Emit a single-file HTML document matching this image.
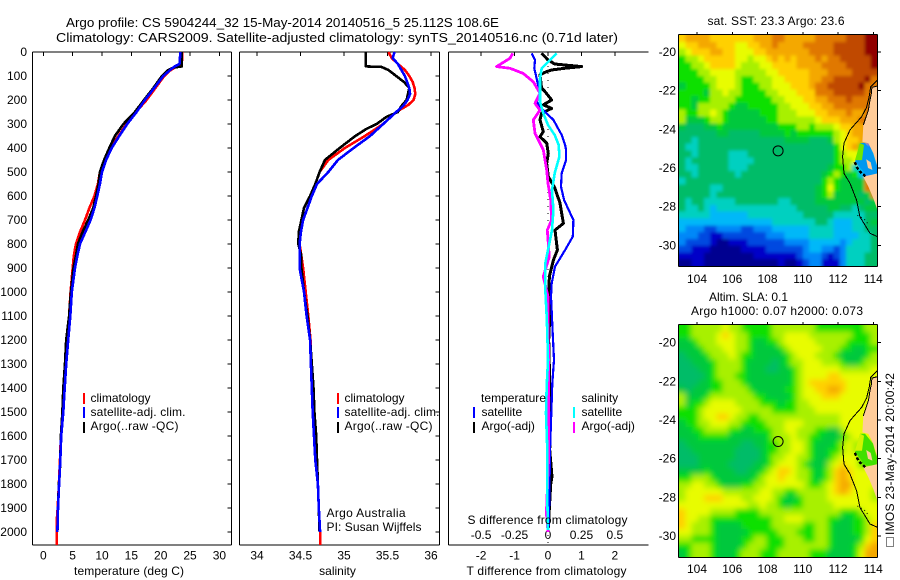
<!DOCTYPE html>
<html>
<head>
<meta charset="utf-8">
<title>Argo profile 5904244_32</title>
<style>
html,body{margin:0;padding:0;background:#fff;}
svg{display:block;font-family:"Liberation Sans",sans-serif;font-size:12px;fill:#000;}
text{fill:#000;}
.ttl{font-size:13px;}
</style>
</head>
<body>
<svg id="fig" xmlns="http://www.w3.org/2000/svg" width="900" height="580" viewBox="0 0 900 580">
  <defs>
    <filter id="blur-sst" filterUnits="userSpaceOnUse" x="0" y="0" width="900" height="580"><feGaussianBlur stdDeviation="1.6"/></filter>
    <filter id="blur-sla" filterUnits="userSpaceOnUse" x="0" y="0" width="900" height="580"><feGaussianBlur stdDeviation="3"/></filter>
  </defs>
  <text class="ttl" x="66" y="27" textLength="433" lengthAdjust="spacingAndGlyphs">Argo profile: CS 5904244_32 15-May-2014 20140516_5 25.112S 108.6E</text>
  <text class="ttl" x="56" y="42" textLength="562" lengthAdjust="spacingAndGlyphs">Climatology: CARS2009. Satellite-adjusted climatology: synTS_20140516.nc (0.71d later)</text>

  <g id="panels"></g>
  <g id="maps"></g>

  <text x="129" y="575" text-anchor="middle" textLength="110">temperature (deg C)</text>
  <text x="337.5" y="575" text-anchor="middle">salinity</text>
  <text x="546.5" y="575" text-anchor="middle" textLength="160">T difference from climatology</text>
  <text x="547.5" y="524" text-anchor="middle" textLength="160">S difference from climatology</text>

  <g>
    <rect x="83" y="393" width="2" height="11" fill="#ff0000"/>
    <rect x="83" y="407" width="2" height="11" fill="#0000ff"/>
    <rect x="83" y="422" width="2" height="11" fill="#000"/>
    <text x="90.5" y="402">climatology</text>
    <text x="90.5" y="416" textLength="95">satellite-adj. clim.</text>
    <text x="90.5" y="430" textLength="88">Argo(..raw -QC)</text>
  </g>
  <g>
    <rect x="337" y="393" width="2" height="11" fill="#ff0000"/>
    <rect x="337" y="407" width="2" height="11" fill="#0000ff"/>
    <rect x="337" y="422" width="2" height="11" fill="#000"/>
    <text x="344.5" y="402">climatology</text>
    <text x="344.5" y="416" textLength="95">satellite-adj. clim.</text>
    <text x="344.5" y="430" textLength="88">Argo(..raw -QC)</text>
  </g>
  <text x="326.5" y="517" textLength="79">Argo Australia</text>
  <text x="326.5" y="531" textLength="95">PI: Susan Wijffels</text>

  <g>
    <text x="481" y="402" textLength="65">temperature</text>
    <text x="581.5" y="402">salinity</text>
    <rect x="473" y="407" width="2" height="11" fill="#0000ff"/>
    <rect x="473" y="422" width="2" height="11" fill="#000"/>
    <rect x="573" y="407" width="2" height="11" fill="#00ffff"/>
    <rect x="573" y="422" width="2" height="11" fill="#ff00ff"/>
    <text x="481.5" y="416">satellite</text>
    <text x="481.5" y="430">Argo(-adj)</text>
    <text x="581.5" y="416">satellite</text>
    <text x="581.5" y="430">Argo(-adj)</text>
  </g>

  <text x="707.5" y="25" textLength="137">sat. SST: 23.3 Argo: 23.6</text>
  <text x="709" y="301" textLength="79">Altim. SLA: 0.1</text>
  <text x="691" y="315" textLength="172">Argo h1000: 0.07 h2000: 0.073</text>

  <g>
    <rect x="886.5" y="537.5" width="7" height="9" fill="none" stroke="#000" stroke-dasharray="1 1"/>
    <text transform="translate(894,535) rotate(-90)" textLength="162">IMOS 23-May-2014 20:00:42</text>
  </g>
</svg>

<script>
/* ---------- tick labels ---------- */
var depthTicks = [0,100,200,300,400,500,600,700,800,900,1000,1100,1200,1300,1400,1500,1600,1700,1800,1900,2000];
var temperatureTicks = [0,5,10,15,20,25,30];
var salinityTicks = [34,34.5,35,35.5,36];
var tDiffTicks = [-2,-1,0,1,2];
var sDiffTicks = [-0.5,-0.25,0,0.25,0.5];
var lonTicks = [104,106,108,110,112,114];
var latTicks = [20,22,24,26,28,30];

/* ---------- temperature profiles ---------- */
var tempClimDepth = [0,50,60,75,100,150,200,250,300,350,400,450,500,550,600,650,700,750,800,850,900,1000,1100,1200,1300,1400,1500,1600,1700,1800,1900,1950,2054];
var tempClim = [23.7,23.6,22.8,21.7,20.6,19.1,17.6,15.8,14.2,12.8,11.4,10.4,9.65,9.3,8.7,7.85,7.1,6.25,5.55,5.2,5.0,4.65,4.4,4.15,3.8,3.45,3.25,3.0,2.85,2.65,2.45,2.3,2.3];
var tempSatDepth = [0,50,60,75,100,150,200,250,300,350,400,450,500,550,600,650,700,750,800,850,900,1000,1100,1200,1300,1400,1500,1600,1700,1800,1900,2000];
var tempSat = [23.35,23.2,22.4,21.6,20.45,18.9,17.3,15.9,14.3,12.95,11.65,10.7,10.0,9.65,9.2,8.7,8.05,7.15,6.25,5.8,5.4,4.85,4.6,4.25,3.9,3.65,3.4,3.05,2.9,2.7,2.5,2.4];
var tempArgoDepth = [0,60,65,75,100,150,200,250,300,350,400,450,500,550,600,650,700,750,800,850,900,1000,1100,1200,1300,1400,1500,1600,1700,1760,1800,1900,2000];
var tempArgo = [23.6,23.6,22.15,21.3,20.2,18.75,17.15,15.6,13.65,12.2,11.25,10.35,9.65,9.4,9.0,8.5,7.65,6.7,5.9,5.55,5.15,4.7,4.4,3.9,3.7,3.4,3.25,3.0,2.9,2.8,2.65,2.5,2.4];

/* ---------- salinity profiles ---------- */
var salClimDepth = [0,25,50,75,100,125,150,175,200,220,250,300,350,400,450,500,550,600,650,700,750,800,850,900,1000,1100,1200,1300,1400,1500,1600,1700,1800,1900,2000,2054];
var salClim = [35.51,35.55,35.62,35.70,35.75,35.79,35.81,35.82,35.80,35.74,35.6,35.45,35.24,35.01,34.82,34.72,34.67,34.61,34.54,34.51,34.5,34.49,34.51,34.53,34.56,34.59,34.615,34.625,34.635,34.645,34.66,34.68,34.70,34.71,34.725,34.725];
var salSatDepth = [0,25,50,75,100,150,175,200,225,250,300,350,400,450,500,550,600,650,700,750,800,850,900,1000,1100,1200,1300,1400,1500,1600,1700,1800,1900,2000];
var salSat = [35.58,35.56,35.62,35.66,35.70,35.75,35.76,35.73,35.68,35.6,35.45,35.30,35.11,34.93,34.82,34.69,34.63,34.58,34.53,34.505,34.49,34.49,34.49,34.54,34.57,34.61,34.62,34.63,34.64,34.655,34.67,34.70,34.71,34.725];
var salArgoDepth = [0,60,62,75,100,125,150,200,225,250,270,300,320,350,400,450,500,550,600,650,700,750,800,850,900,1000,1100,1200,1300,1400,1500,1600,1700,1800,1900,2000];
var salArgo = [35.25,35.25,35.43,35.51,35.6,35.69,35.75,35.72,35.66,35.62,35.49,35.375,35.26,35.13,34.95,34.78,34.72,34.67,34.61,34.54,34.51,34.48,34.475,34.51,34.51,34.54,34.58,34.61,34.63,34.65,34.66,34.68,34.69,34.70,34.71,34.72];

/* ---------- difference profiles ---------- */
var diffTSatDepth = [6,33,68,110,172,207,235,283,346,388,408,450,505,561,617,700,769,825,894,964,1019,1172,1283,1380,1505,1658,1866,1977];
var diffTSat = [-0.49,-0.39,-0.41,-0.34,-0.24,-0.34,-0.19,0.16,0.41,0.51,0.54,0.54,0.41,0.39,0.48,0.76,0.74,0.51,0.21,0.11,0.09,0.14,0.18,0.13,0.10,0.06,0.04,0.02];
var diffTArgoDepth = [6,33,50,61,68,75,85,96,151,165,200,220,235,255,283,332,353,380,422,464,519,568,630,714,742,825,867,936,1019,1075,1200,1430,1500,1658,1770,1800,1950,2000];
var diffTArgo = [-0.19,0,0.2,1.0,0.5,0.1,-0.1,-0.24,-0.19,-0.09,0.11,-0.14,0.11,-0.19,-0.24,-0.14,-0.24,-0.04,0.01,-0.04,0.01,0.21,0.36,0.46,0.21,0.28,0.16,0.04,0.03,0.06,0.02,0.06,0.08,0.05,0.12,0.08,0.02,0];
var diffSSatDepth = [6,33,68,110,172,207,255,304,346,388,436,505,575,658,742,825,880,991,1102,1172,1283,1394,1505,1658,1866,1991];
var diffSSat = [0.065,0.015,-0.047,-0.06,-0.06,-0.06,-0.035,0,0.05,0.08,0.085,0.05,0.03,0.04,0.03,0,-0.02,-0.02,-0.01,-0.005,0,-0.01,-0.015,-0.005,-0.005,0];
var diffSArgoDepth = [6,26,61,68,89,124,172,214,242,283,339,380,408,492,547,617,700,742,853,936,1019,1300,1700,1922,2000];
var diffSArgo = [-0.264,-0.284,-0.384,-0.284,-0.185,-0.11,-0.06,-0.097,-0.06,-0.11,-0.097,-0.06,-0.035,-0.01,0,0.02,0.027,-0.005,0.01,-0.035,0,0.004,0.004,-0.012,0];

/* ---------- maps ---------- */
var sstLevels = [
[11,12,12,12,12,11,11,11,11,11,11,11,12,12,12,13,13,12,12,12,12,12,13,13,13,13,13,14,14,14,15,15],
[10,11,11,12,12,12,11,11,11,10,10,11,11,12,12,13,12,12,12,12,13,13,13,13,13,14,14,14,14,14,15,15],
[9,10,11,11,11,12,12,11,11,10,10,10,11,11,12,12,12,12,12,12,12,13,13,13,13,14,14,14,14,14,15,15],
[8,9,9,10,11,11,11,11,11,10,10,9,10,10,11,12,11,12,11,12,12,12,13,12,13,13,14,14,14,14,14,15],
[8,8,9,9,10,11,11,11,11,10,9,9,9,10,10,11,11,11,11,12,12,12,12,13,13,13,13,14,14,14,14,15],
[8,8,8,9,9,10,10,10,10,9,9,9,9,9,10,10,11,11,11,11,11,12,12,12,13,13,13,13,14,14,14,14],
[8,8,8,8,9,9,10,10,10,9,8,8,9,9,9,10,10,11,11,11,11,12,12,13,13,14,14,14,14,14,15,13],
[7,8,8,8,8,9,10,10,10,9,8,8,8,9,9,10,10,10,11,11,11,12,13,13,14,14,14,14,14,15,13,13],
[8,8,8,8,7,9,9,10,9,9,8,8,8,8,9,9,10,10,10,11,11,11,13,13,13,14,14,14,14,14,13,13],
[8,8,7,8,8,9,9,9,9,8,8,8,8,8,8,9,9,10,10,10,11,11,12,12,13,13,13,14,13,13,13,13],
[8,8,7,9,9,9,9,9,8,7,7,8,8,8,8,8,9,9,10,10,10,11,11,12,12,13,13,13,13,13,13,13],
[9,8,8,9,9,10,9,8,7,7,7,7,7,8,8,8,9,9,9,10,10,10,11,11,12,12,12,13,12,12,13,13],
[9,7,7,7,8,9,9,8,7,7,7,7,7,7,8,8,9,9,9,9,9,9,10,11,11,11,12,12,12,13,13,13],
[7,6,6,6,7,7,8,7,7,7,7,7,7,7,7,7,8,8,8,9,9,8,9,9,9,10,11,11,12,12,13,13],
[6,6,6,6,6,6,7,7,6,6,6,6,6,7,7,7,7,8,7,8,8,8,8,8,8,9,10,11,12,12,13,13],
[6,6,5,6,6,6,6,6,6,6,6,6,6,6,6,6,6,7,7,7,7,6,6,6,7,9,10,11,11,12,13,13],
[6,5,5,6,6,6,6,6,6,6,6,6,6,6,6,6,6,6,6,6,6,6,6,6,6,8,10,11,12,8,3,3],
[6,6,5,6,6,6,6,6,5,5,5,6,6,6,6,6,6,6,6,6,6,6,6,6,6,8,9,10,10,9,4,4],
[6,5,6,6,6,6,6,6,5,5,5,5,6,6,6,6,6,6,6,6,6,6,6,6,6,8,9,9,10,9,4,4],
[6,5,5,6,6,6,6,6,5,5,5,6,6,6,6,6,6,6,6,6,6,6,6,6,7,8,8,9,5,4,4,3],
[6,6,5,6,6,6,6,6,6,5,6,6,6,6,6,6,6,6,6,6,6,6,6,7,8,9,8,7,8,4,3,3],
[5,6,6,6,6,6,6,6,6,6,6,6,6,6,6,6,6,6,6,6,6,6,6,8,9,8,7,7,7,7,13,13],
[6,6,6,6,6,5,5,6,6,6,6,6,6,6,6,6,6,6,6,6,6,6,7,8,10,8,7,7,7,7,13,13],
[6,6,6,6,6,5,6,6,6,6,6,6,6,6,6,6,6,6,6,6,6,6,7,8,9,7,7,7,7,6,7,13],
[6,5,6,6,5,5,5,5,5,6,6,6,6,6,6,6,5,5,6,6,6,6,7,7,7,7,7,7,7,7,6,7],
[6,5,5,6,5,4,5,5,5,5,5,5,5,5,5,5,5,5,5,6,6,6,6,6,7,7,6,6,5,6,7,7],
[5,5,5,5,5,4,4,4,4,4,4,5,5,5,5,5,5,5,5,5,6,6,6,6,6,5,5,5,5,5,6,6],
[4,4,4,4,4,4,4,4,4,4,4,4,4,4,4,5,5,5,5,5,5,5,6,6,5,4,4,4,5,5,6,7],
[4,3,3,3,2,2,3,3,3,3,2,2,3,3,3,4,4,4,4,4,4,5,5,5,5,4,4,4,5,5,6,6],
[3,3,3,2,2,1,1,2,2,2,2,2,2,2,3,3,3,4,4,4,4,5,5,5,5,4,4,4,4,5,5,6],
[3,2,2,2,2,1,0,0,1,1,1,2,2,2,2,2,2,3,3,3,3,4,4,4,4,4,3,4,5,5,5,6],
[2,2,1,1,1,0,0,0,0,0,1,1,1,1,2,2,2,2,2,2,3,4,4,3,3,2,3,5,5,5,5,6],
[1,1,1,1,0,0,0,0,0,0,0,0,1,1,1,1,1,1,1,2,3,3,3,2,1,2,3,5,5,5,6,6],
[0,0,1,1,0,0,0,0,0,0,0,0,0,0,0,0,1,0,0,1,2,3,3,1,1,1,3,5,5,5,6,6]
];
var slaLevels = [
[8,8,9,9,9,9,9,10,9,9,8,8,8,8,8,9,9,9,9,9,9,9,8,8,8,8,8,8,8,8,9,9],
[8,8,9,9,9,9,10,11,10,9,9,8,8,8,8,9,9,10,10,10,10,9,9,9,9,9,9,9,8,8,8,9],
[7,7,8,9,9,9,10,10,10,9,9,8,7,7,8,8,9,10,10,10,10,10,9,9,9,9,9,8,8,8,8,9],
[7,7,7,8,9,9,9,10,10,9,9,8,7,7,7,7,8,9,10,10,10,10,10,9,9,9,8,8,7,7,8,8],
[6,7,7,7,8,9,9,9,10,9,8,8,7,7,7,7,7,8,9,10,10,10,9,9,9,8,7,7,7,7,8,9],
[6,6,7,7,7,8,9,9,9,9,8,7,7,7,7,6,7,8,9,9,10,10,10,9,9,9,8,7,7,8,9,9],
[6,6,6,7,7,8,9,9,9,9,8,7,7,7,6,6,7,7,8,9,10,10,10,10,10,10,9,9,9,9,9,10],
[6,6,6,6,7,8,9,9,9,8,8,7,7,7,7,7,7,7,8,9,10,10,10,10,11,11,10,10,10,10,10,10],
[6,6,6,7,7,8,8,9,9,9,8,7,7,7,7,7,7,7,8,9,10,11,11,11,11,11,11,10,10,10,10,10],
[7,6,7,7,7,8,8,9,9,9,9,8,7,7,7,7,7,8,8,9,10,10,11,11,12,12,11,10,10,10,10,10],
[9,7,7,7,8,9,9,9,9,9,9,9,8,8,7,7,7,7,8,9,10,10,10,11,11,11,10,10,10,10,10,10],
[9,7,8,8,9,10,10,10,10,9,9,9,9,8,8,8,7,8,8,9,9,10,10,10,10,10,10,10,10,10,10,10],
[8,8,8,9,10,10,10,10,10,10,9,9,9,9,9,8,8,8,8,9,9,9,10,10,10,10,10,10,10,10,10,10],
[8,8,8,9,10,10,11,11,10,9,9,8,8,9,9,9,9,9,9,9,9,9,9,9,9,9,10,10,10,10,10,10],
[7,8,8,9,9,10,10,10,9,9,8,8,8,8,9,9,9,10,10,10,9,9,9,9,9,9,10,10,10,10,10,10],
[7,7,8,8,9,9,9,9,8,8,7,7,8,8,8,9,9,10,10,9,9,9,8,8,7,7,9,10,10,10,10,10],
[7,7,7,8,8,8,8,8,7,7,7,7,7,7,8,9,9,9,10,9,9,8,8,7,7,7,8,9,10,10,10,10],
[6,7,7,7,7,7,7,7,7,7,6,6,7,7,8,8,9,9,10,10,9,8,7,7,7,8,9,10,9,9,9,9],
[6,6,7,7,7,7,7,7,7,6,6,6,6,7,8,8,9,9,10,10,9,8,7,7,8,8,9,10,9,9,9,10],
[6,6,6,7,7,7,7,7,7,6,6,6,6,7,8,9,9,10,10,9,9,8,7,7,8,9,10,10,10,8,8,8],
[6,6,6,7,7,7,7,7,6,6,6,6,7,7,8,9,10,10,10,9,8,7,7,7,9,10,11,10,10,8,8,10],
[7,7,7,7,8,7,7,7,7,6,6,7,7,8,9,10,11,11,10,9,9,8,7,8,9,11,12,11,10,10,10,10],
[8,8,9,9,9,8,7,7,7,7,7,7,8,9,10,10,11,10,10,9,9,8,7,8,9,11,12,11,10,10,10,10],
[9,9,10,10,9,9,8,7,7,7,8,8,9,9,10,10,10,10,10,10,9,8,8,9,10,11,12,12,10,10,10,10],
[9,10,10,10,10,10,10,9,9,9,9,9,9,10,10,9,9,8,8,9,9,9,9,9,10,11,12,11,10,10,10,9],
[9,10,10,10,11,11,11,10,10,10,9,9,10,10,10,9,8,7,7,8,9,9,9,9,10,10,10,10,10,10,10,9],
[10,10,10,10,10,10,10,10,10,10,10,9,9,10,9,9,8,7,8,8,9,9,9,9,9,10,10,10,10,10,10,10],
[11,10,10,10,10,9,9,9,9,8,8,8,8,9,9,9,9,9,9,9,9,9,9,9,9,9,8,8,8,9,10,10],
[11,10,10,9,9,8,8,8,8,8,8,8,8,8,8,9,9,10,10,10,9,9,9,9,8,8,7,7,8,8,9,10],
[11,10,9,9,9,8,7,7,7,7,8,8,8,8,8,9,9,9,9,9,8,8,9,9,8,7,7,7,8,8,9,11],
[10,10,9,9,9,8,7,7,7,7,7,8,8,8,8,8,9,9,9,8,8,8,9,9,8,7,7,7,8,8,9,11],
[9,9,8,8,8,8,7,7,7,7,8,8,9,9,8,8,8,9,9,9,8,8,9,9,8,7,7,7,7,8,10,11],
[8,8,9,9,9,8,7,7,7,7,8,9,9,9,8,8,8,9,9,9,9,9,9,9,8,7,7,7,8,9,11,12],
[7,8,9,9,9,8,7,7,7,8,9,9,9,8,8,8,9,9,9,9,9,8,8,8,7,7,7,7,8,10,12,12]
];
var levelColors = ['#000090','#0000c8','#0048e0','#0088f8','#00b8f8','#00d0c0','#00bc68','#00c83c','#10e000','#a8f000','#e8fc00','#ffd000','#f4a800','#e07800','#c04800','#900000'];
var cellLon = 0.35;
var cellLat = 0.3515;
var mapLonStart = 103;
var argoLon = 108.6;
var argoLat = 25.112;
var isobathLon = [114.23,113.85,113.77,113.62,113.34,112.68,112.34,112.26,112.34,112.68,113.05,113.24,113.81,114.23];
var isobathLat = [21.45,21.8,22.3,22.86,23.34,24.03,24.72,25.41,26.28,26.79,27.66,28.52,29.38,29.55];
var landNorthLon = [114.23,113.92,113.89,113.81,113.72,113.43,113.38,113.72,114.0,114.23];
var landNorthLat = [21.76,21.83,22.14,22.48,23.0,23.78,24.64,24.72,25.24,25.93];
var landSouthLon = [114.23,113.43,113.72,114.0,114.23];
var landSouthLat = [26.28,26.45,26.97,27.57,28.17];
var bayLon = [113.25,113.53,113.98,114.2,114.2,113.62,112.96];
var bayLat = [24.71,24.71,25.22,25.95,26.36,26.36,25.69];
var bayInnerLon = [113.25,113.47,113.36,112.96];
var bayInnerLat = [24.71,24.81,25.59,25.59];
var islandLon = [112.95,113.1,113.25,113.45,113.6];
var islandLat = [25.7,26.0,26.2,26.35,26.5];
var bayLandLon = [113.6,113.85,113.95,113.7];
var bayLandLat = [25.55,25.7,26.1,26.0];
var reefLon = [113.1,113.3,113.55,113.7];
var reefLat = [28.45,28.55,28.7,28.9];

/* ---------- axis functions ---------- */
function yD(d){return 52+0.24*d;}
function xT(v){return 43.3+5.87*v;}
function xS(v){return 257+87*(v-34);}
function xDT(v){return 548+33.45*v;}
function xDS(v){return 548+133.8*v;}
function lonX(lon){return 697+17.63*(lon-104);}
function latY(top){return function(lat){return top+19.33*(lat-20);};}

var NS='http://www.w3.org/2000/svg';
function mk(tag,parent,attrs){
  var el=document.createElementNS(NS,tag);
  for(var k in attrs){el.setAttribute(k,attrs[k]);}
  parent.appendChild(el);
  return el;
}
function seg(parent,x1,y1,x2,y2,w){
  return mk('line',parent,{x1:x1,y1:y1,x2:x2,y2:y2,stroke:'#000','stroke-width':w||1,'shape-rendering':'crispEdges'});
}
function drawLine(parent,fx,fy,xs,ys,color,w){
  var p=[];
  for(var i=0;i<xs.length;i++){p.push(fx(xs[i]).toFixed(1)+','+fy(ys[i]).toFixed(1));}
  return mk('polyline',parent,{points:p.join(' '),fill:'none',stroke:color,'stroke-width':w,'stroke-linejoin':'round','shape-rendering':'crispEdges'});
}

var panelsG=document.getElementById('panels');
var mapsG=document.getElementById('maps');

/* ---------- profile panels ---------- */
function panelFrame(x0,x1,rightBorder,topTicks,fx,tickRows){
  var g=mk('g',panelsG,{});
  
  
  seg(g,x0,52,x1,52);
  seg(g,x0,545,x1,545);
  seg(g,x0,52,x0,545);
  if(rightBorder){
    seg(g,x1,52,x1,545);
    depthTicks.forEach(function(d){
      var t=seg(g,x1-4,yD(d),x1,yD(d));
      
      
    });
  }
  topTicks.forEach(function(v){
    var t=seg(g,fx(v),52,fx(v),56);
    
    
  });
  tickRows.forEach(function(r){
    r.vals.forEach(function(v,i){
      var t=mk('text',g,{x:r.f(v),y:r.y,'text-anchor':'middle'});
      t.textContent=String(v);
      
      
    });
  });
  return g;
}
function depthLabels(){
  depthTicks.forEach(function(d){
    var t=mk('text',panelsG,{x:27,y:yD(d)+4,'text-anchor':'end'});
    t.textContent=String(d);
    
    
  });
}
depthLabels();

var p1=panelFrame(32.5,231.5,true,temperatureTicks,xT,[{vals:temperatureTicks,f:xT,y:559.5}]);
drawLine(p1,xT,yD,tempClim,tempClimDepth,'#ff0000',2.6);
drawLine(p1,xT,yD,tempArgo,tempArgoDepth,'#000',2.6);
drawLine(p1,xT,yD,tempSat,tempSatDepth,'#0000ff',2.6);

var p2=panelFrame(239.5,439.5,true,salinityTicks,xS,[{vals:salinityTicks,f:xS,y:559.5}]);
drawLine(p2,xS,yD,salClim,salClimDepth,'#ff0000',2.6);
drawLine(p2,xS,yD,salArgo,salArgoDepth,'#000',2.6);
drawLine(p2,xS,yD,salSat,salSatDepth,'#0000ff',2.6);

var p3=panelFrame(448.5,648.5,false,tDiffTicks,xDT,[
  {vals:tDiffTicks,f:xDT,y:559.5},
  {vals:sDiffTicks,f:xDS,y:539}
]);
var zeroLine=seg(p3,xDT(0),52,xDT(0),545);
zeroLine.setAttribute('stroke-dasharray','1 6');

drawLine(p3,xDT,yD,diffTArgo,diffTArgoDepth,'#000',3);
drawLine(p3,xDT,yD,diffTSat,diffTSatDepth,'#0000ff',2.2);
drawLine(p3,xDS,yD,diffSArgo,diffSArgoDepth,'#ff00ff',2.8);
drawLine(p3,xDS,yD,diffSSat,diffSSatDepth,'#00ffff',2.6);

/* ---------- maps ---------- */
function drawMap(name,levels,top,bottom,latTop,labelY,bayFill,bayInnerFill,blurId){
  var fy=latY(latTop);
  var L=679,R=877;
  var g=mk('g',mapsG,{});
  
  
  var clipId=name+'-clip';
  var cp=mk('clipPath',g,{id:clipId});
  mk('rect',cp,{x:L,y:top,width:R-L,height:bottom-top});
  var inner=mk('g',g,{'clip-path':'url(#'+clipId+')'});
  var heat=mk('g',inner,{filter:'url(#'+blurId+')'});
  
  
  levels.forEach(function(row,r){
    row.forEach(function(val,c){
      var x=lonX(mapLonStart+c*cellLon), y=top+r*cellLat*19.33;
      var w=cellLon*17.63+0.6, h=cellLat*19.33+0.6;
      if(c===0){x-=12;w+=12;}
      if(c===row.length-1){w+=12;}
      if(r===0){y-=12;h+=12;}
      if(r===levels.length-1){h+=12;}
      var cell=mk('rect',heat,{x:x.toFixed(2),y:y.toFixed(2),width:w.toFixed(2),height:h.toFixed(2),fill:levelColors[val],'shape-rendering':'crispEdges'});
      
      
    });
  });
  function poly(lons,lats,attrs,tag){
    var p=[];
    for(var i=0;i<lons.length;i++){p.push(lonX(lons[i]).toFixed(1)+','+fy(lats[i]).toFixed(1));}
    attrs.points=p.join(' ');
    return mk(tag,inner,attrs);
  }
  poly(landNorthLon,landNorthLat,{fill:'#ffcc99'},'polygon');
  poly(bayLon,bayLat,{fill:bayFill},'polygon');
  poly(bayInnerLon,bayInnerLat,{fill:bayInnerFill},'polygon');
  poly(landSouthLon,landSouthLat,{fill:'#ffcc99'},'polygon');
  poly(bayLandLon,bayLandLat,{fill:'#ffcc99'},'polygon');
  poly(islandLon,islandLat,{fill:'none',stroke:'#000','stroke-width':2.4,'stroke-dasharray':'3 2','shape-rendering':'crispEdges'},'polyline');
  poly(reefLon,reefLat,{fill:'none',stroke:'#000','stroke-width':1,'stroke-dasharray':'1 3'},'polyline');
  poly(isobathLon,isobathLat,{fill:'none',stroke:'#000','stroke-width':1,'shape-rendering':'crispEdges'},'polyline');
  poly(landNorthLon.slice(0,6),landNorthLat.slice(0,6),{fill:'none',stroke:'#000','stroke-width':1,'shape-rendering':'crispEdges'},'polyline');
  var circle=mk('circle',g,{cx:lonX(argoLon),cy:fy(argoLat),r:5,fill:'none',stroke:'#000','stroke-width':1});
  
  
  seg(g,L-0.5,top-0.5,R+0.5,top-0.5);
  seg(g,L-0.5,bottom+0.5,R+0.5,bottom+0.5);
  seg(g,L-0.5,top-0.5,L-0.5,bottom+0.5);
  seg(g,R+0.5,top-0.5,R+0.5,bottom+0.5);
  lonTicks.forEach(function(v){
    var x=lonX(v);
    seg(g,x,top-3,x,top);
    var t=mk('text',g,{x:x,y:labelY,'text-anchor':'middle'});
    t.textContent=String(v);
    
    
  });
  latTicks.forEach(function(v){
    var y=fy(v);
    seg(g,R,y,R+4,y);
    var t=mk('text',g,{x:676,y:y+4,'text-anchor':'end'});
    t.textContent='-'+v;
    
    
  });
}
drawMap('sst-map',sstLevels,35,266,52,283,'#0098f0','#70e800','blur-sst');
drawMap('sla-map',slaLevels,325,557,342.7,573,'#40e000','#d0f400','blur-sla');
</script>
</body>
</html>
